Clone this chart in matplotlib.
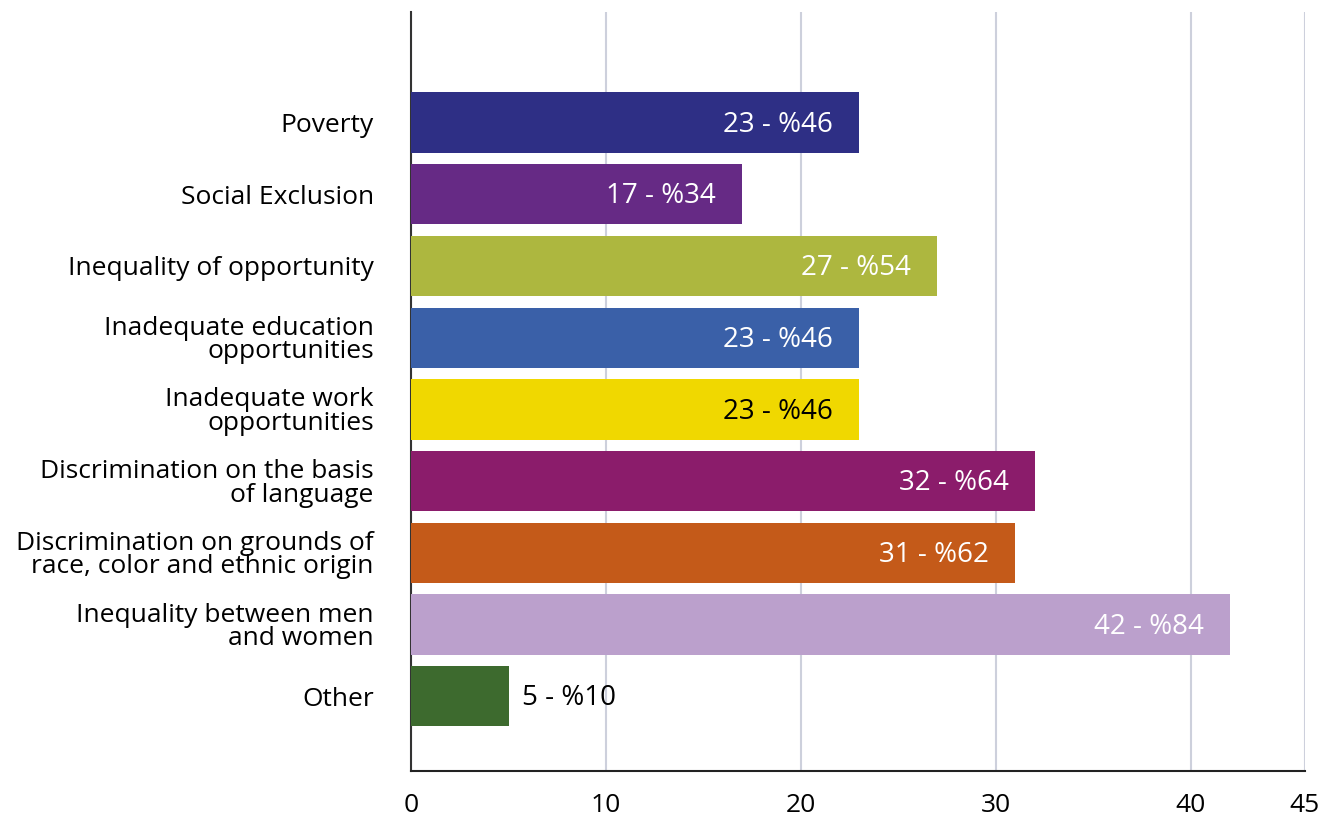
import matplotlib.pyplot as plt

plt.rcParams['font.family'] = ['Open Sans', 'DejaVu Sans']

# Survey answers: count of respondents and share (%)
categories = [
    'Poverty',
    'Social Exclusion',
    'Inequality of opportunity',
    'Inadequate education\nopportunities',
    'Inadequate work\nopportunities',
    'Discrimination on the basis\nof language',
    'Discrimination on grounds of\nrace, color and ethnic origin',
    'Inequality between men\nand women',
    'Other',
]
counts = [23, 17, 27, 23, 23, 32, 31, 42, 5]
shares = [46, 34, 54, 46, 46, 64, 62, 84, 10]
colors = ['#2e2f85', '#662a85', '#adb73f', '#3a60a8', '#f0d800',
          '#8b1c6b', '#c45a19', '#bba0cc', '#3d6a2e']
label_colors = ['white', 'white', 'white', 'white', 'black',
                'white', 'white', 'white', 'black']
x_ticks = [0, 10, 20, 30, 40]
x_max = 45.85

fig = plt.figure(figsize=(13.22, 8.26), dpi=100)
ax = fig.add_axes([0.311, 0.0666, 0.987 - 0.311, 0.9855 - 0.0666])

ypos = list(range(len(categories)))
bars = ax.barh(ypos, counts, height=0.84, color=colors, zorder=3)

for y, c, s, tc in zip(ypos, counts, shares, label_colors):
    text = f'{c} - %{s}'
    if c > 8:
        ax.text(c - 1.35, y + 0.03, text, ha='right', va='center',
                color=tc, fontsize=20, zorder=4)
    else:
        ax.text(c + 0.7, y + 0.03, text, ha='left', va='center',
                color=tc, fontsize=20, zorder=4)

ax.set_ylim(9.042, -1.542)
ax.set_xlim(0, x_max)
ax.set_yticks(ypos)
ax.set_yticklabels(categories, fontsize=19, linespacing=0.92)
ax.set_xticks(x_ticks + [x_max])
ax.set_xticklabels([str(t) for t in x_ticks] + ['45'], fontsize=19)
ax.tick_params(axis='both', length=0)
ax.tick_params(axis='y', pad=27)
ax.tick_params(axis='x', pad=16)

ax.grid(axis='x', color='#cdd0dc', linewidth=1.5, zorder=0)
for side in ['top', 'right']:
    ax.spines[side].set_visible(False)
ax.spines['left'].set_color('#333333')
ax.spines['left'].set_linewidth(1.5)
ax.spines['bottom'].set_color('#222222')
ax.spines['bottom'].set_linewidth(1.5)

fig.savefig('out.png', dpi=100)
